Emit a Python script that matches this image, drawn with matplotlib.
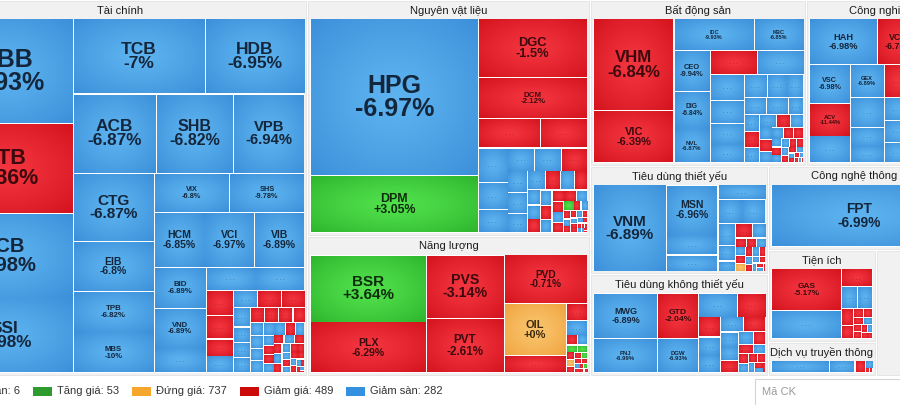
import numpy as np
import matplotlib
matplotlib.use("Agg")
import matplotlib.pyplot as plt
from matplotlib.patches import Rectangle
from matplotlib.colors import to_rgb

plt.rcParams["font.family"] = ["Liberation Sans", "DejaVu Sans"]

# status codes: S = giam san, G = giam gia, T = tang gia, D = dung gia, C = tran
sector_names = ["Tài chính", "Nguyên vật liệu", "Năng lượng", "Bất động sản", "Công nghiệp",
                "Tiêu dùng thiết yếu", "Tiêu dùng không thiết yếu", "Công nghệ thông tin",
                "Tiện ích", "Dịch vụ truyền thông", "Y tế"]
sector_vals = [140812, 66788, 39620, 35856, 24734, 19313, 18067, 15708, 9800, 3690, 10080]
sector_strips = [1, 2, 2, 2, 1, 2, 1]

# Tai chinh
tc_names = ["MBB", "STB", "VCB", "SSI", "TCB", "HDB", "ACB", "SHB", "VPB", "CTG", "EIB", "TPB", "MBS",
            "VIX", "SHS", "HCM", "VCI", "VIB", "BID", "VND"] + [""] * 10
tc_pct = [-6.93, -5.86, -6.98, -6.98, -7, -6.95, -6.87, -6.82, -6.94, -6.87, -6.8, -6.82, -10,
          -6.8, -9.78, -6.85, -6.97, -6.89, -6.89, -6.89] + [None] * 10
tc_vals = [14317, 12330, 11645, 10207, 9900, 7463, 6599, 6122, 5684, 5508, 4050, 3321, 3281,
           2935, 2935, 2778, 2750, 2750, 2132, 2080, 1274, 1139, 1127, 688, 646, 481, 454, 408, 400, 400]
tc_state = "SG" + "S" * 18 + "SSSGGGSSGG"
tc_small = [322, 256, 256, 248, 213, 213, 213, 175, 170, 170, 160, 155, 150, 140, 130, 120, 110, 100,
            100, 95, 90, 90, 85, 80, 80, 75, 70, 65, 60, 60, 55, 50, 50, 45, 40, 40, 35, 30, 25, 20, 10]
tc_small_state = "SSSS" + "GGG" + "GSS" + "SSS" + "SGS" + "SGG" + "SGS" + "GGS" + "GSG" + "GSG" + "SGG" + "SGSG" + "GSG"
tc_strips = [4, 2, 3, 4, 2, 3, 3, 2, 4, 3]

# Nguyen vat lieu
nvl_names = ["HPG", "DPM", "DGC", "DCM"] + [""] * 8
nvl_pct = [-6.97, 3.05, -1.5, -2.12] + [None] * 8
nvl_vals = [26298, 9548, 6461, 4490, 1798, 1378, 1018, 797, 693, 630, 625, 620]
nvl_state = "STGG" + "GG" + "SSS" + "SSG"
nvl_small = [430, 410, 380, 326, 280, 260, 250, 200, 190, 180, 170, 160, 150, 140, 130, 125, 120, 115,
             110, 105, 70, 65, 60, 55, 50, 45, 40, 38, 35, 32, 30, 28, 25, 22, 20, 18, 15, 12, 10, 8]
nvl_small_state = "SSSSGSGSSG" + "SGSGGSGSGT" + "GSGSGGSGSG" + "GSGGSGGSGG"
nvl_strips = [2, 1, 1, 2, 3, 3]

# Nang luong
nl_names = ["BSR", "PLX", "PVS", "PVT", "PVD", "OIL", ""]
nl_pct = [3.64, -6.29, -3.14, -2.61, -0.71, 0, None]
nl_vals = [7796, 5833, 4953, 4251, 4092, 3224, 1054]
nl_state = "TGGGGDG"
nl_small = [355, 323, 105, 100, 80, 75, 60, 55, 50, 45, 40, 35, 30, 28, 25, 22, 20, 18, 15]
nl_small_state = "GSGSTTGDGGTGGSGGTGG"
nl_strips = [2, 2, 1, 2]

# Bat dong san
bds_names = ["VHM", "VIC", "IDC", "KBC", "CEO", "DIG", "NVL"] + [""] * 6
bds_pct = [-6.84, -6.39, -9.93, -6.85, -9.94, -6.84, -6.87] + [None] * 6
bds_vals = [7406, 4186, 2560, 1584, 1458, 1332, 1242, 1128, 1116, 867, 782, 714, 629]
bds_state = "GGSSSSS" + "GS" + "SSSS"
bds_small = [527, 442, 380, 380, 380, 260, 250, 240, 230, 220, 180, 170, 160, 150, 140, 130, 115, 110,
             85, 80, 75, 70, 65, 60, 55, 50, 45, 40, 35, 30, 25, 20, 18, 15, 12]
bds_small_state = "SSSSSSSGSS" + "GSSGSSGGSG" + "SSGGSGGSSG" + "GSGSG"
bds_strips = [2, 2, 3, 2, 4]

# Cong nghiep
cn_names = ["HAH", "VCG", "", "VSC", "ACV", "", "GEX", "", "", ""]
cn_pct = [-6.98, -6.75, None, -6.98, -11.44, None, -6.89, None, None, None]
cn_vals = [3105, 1955, 1518, 1579, 1353, 1087, 1105, 1020, 646, 561]
cn_state = "SGSSGSSSSS"
cn_small = [900, 700, 680, 650, 600, 560, 500, 450, 400, 350, 300, 250, 200, 150, 100]
cn_small_state = "GSSSSSGSSGSSGSS"
cn_strips = [3, 3, 4]

# Tieu dung thiet yeu
tdty_names = ["VNM", "MSN"] + [""] * 5
tdty_pct = [-6.89, -6.96] + [None] * 5
tdty_vals = [6344, 2601, 1020, 842, 727, 575, 575]
tdty_state = "SSSSSSS"
tdty_small = [380, 260, 180, 230, 190, 100, 95, 90, 85, 80, 75, 70, 65, 60, 55, 50, 45, 40, 35, 30, 25, 20]
tdty_small_state = "SSSGSGGSSGDGSGSGSGSGSG"
tdty_strips = [1, 3, 1, 2]

# Tieu dung khong thiet yeu
tdk_names = ["MWG", "PNJ", "GTD", "DGW"]
tdk_pct = [-6.89, -6.99, -2.04, -6.93]
tdk_vals = [2967, 2258, 1886, 1435]
tdk_state = "SSGS"
tdk_small = [950, 700, 450, 420, 400, 350, 330, 280, 250, 220, 190, 160, 140, 120, 100, 90, 80, 70, 60, 50, 40, 30]
tdk_small_state = "SGGSSSGSSGSGGSGSGGSGSG"
tdk_strips = [2, 2]

# Cong nghe thong tin
cntt_names = ["FPT"]
cntt_pct = [-6.99]
cntt_vals = [11025]
cntt_state = "S"
cntt_small = [150, 100, 60, 40, 28]
cntt_small_state = "SGSSG"

# Tien ich
ti_names = ["GAS", ""]
ti_pct = [-5.17, None]
ti_vals = [2919, 1911]
ti_state = "GS"
ti_small = [567, 347, 331, 200, 150, 90, 80, 70, 65, 60, 55, 50, 45, 40, 30]
ti_small_state = "GSSGGGGGSGGGSGG"

# Dich vu truyen thong
dv_small = [715, 312, 124, 60, 20, 15]
dv_small_state = "SSGSGG"

legend_labels = ["Trần", "Tăng giá", "Đứng giá", "Giảm giá", "Giảm sàn"]
legend_counts = [6, 53, 737, 489, 282]

sectors = [
    (tc_names, tc_pct, tc_vals, tc_state, tc_small, tc_small_state, tc_strips),
    (nvl_names, nvl_pct, nvl_vals, nvl_state, nvl_small, nvl_small_state, nvl_strips),
    (nl_names, nl_pct, nl_vals, nl_state, nl_small, nl_small_state, nl_strips),
    (bds_names, bds_pct, bds_vals, bds_state, bds_small, bds_small_state, bds_strips),
    (cn_names, cn_pct, cn_vals, cn_state, cn_small, cn_small_state, cn_strips),
    (tdty_names, tdty_pct, tdty_vals, tdty_state, tdty_small, tdty_small_state, tdty_strips),
    (tdk_names, tdk_pct, tdk_vals, tdk_state, tdk_small, tdk_small_state, tdk_strips),
    (cntt_names, cntt_pct, cntt_vals, cntt_state, cntt_small, cntt_small_state, [1]),
    (ti_names, ti_pct, ti_vals, ti_state, ti_small, ti_small_state, [2]),
    ([], [], [], "", dv_small, dv_small_state, []),
    ([], [], [], "", [], "", []),
]


def worst(areas, side):
    t = sum(areas) / side
    return max(max(a / t / t, t * t / a) for a in areas)


# squarified treemap, strips = number of items per row for the first rows
def squarify(vals, x, y, w, h, strips=()):
    vals = np.asarray(vals, float)
    areas = vals * (w * h / vals.sum())
    out = []
    i, si, n = 0, 0, len(areas)
    while i < n:
        side = min(w, h)
        if si < len(strips):
            k = min(strips[si], n - i)
            si += 1
        else:
            k = 1
            best = worst(areas[i:i + 1], side)
            while i + k < n:
                nw = worst(areas[i:i + k + 1], side)
                if nw > best:
                    break
                best = nw
                k += 1
        row = areas[i:i + k]
        s = row.sum()
        if w >= h:
            t = s / h
            yy = y
            for a in row:
                out.append((x, yy, t, a / t))
                yy += a / t
            x += t
            w -= t
        else:
            t = s / w
            xx = x
            for a in row:
                out.append((xx, y, a / t, t))
                xx += a / t
            y += t
            h -= t
        i += k
    return out


tile_cols = {"S": ("#5db2ef", "#3a8fd9"), "G": ("#f3353f", "#d3121c"),
             "T": ("#52e04c", "#2db52d"), "D": ("#fac46c", "#efa33f")}
text_cols = {"S": "#14263b", "G": "#3c0a0e", "T": "#0c2c0c", "D": "#3c2a0c"}

# radial gradient for each tile colour
n = 32
gy, gx = np.mgrid[0:n, 0:n]
r = np.clip(np.hypot((gx + .5) / n - .5, (gy + .5) / n - .5) / 0.7071, 0, 1) ** 1.3
grad = {}
for k, (c0, c1) in tile_cols.items():
    grad[k] = np.array(to_rgb(c0)) * (1 - r[..., None]) + np.array(to_rgb(c1)) * r[..., None]

fig = plt.figure(figsize=(9, 4.05), dpi=100)
ax = fig.add_axes([0, 0, 1, 1])
ax.axis("off")

boxes = squarify(sector_vals, -67, 0, 1022.5, 376, sector_strips)
for (bx, by, bw, bh), title, sec in zip(boxes, sector_names, sectors):
    names, pct, vals, state, small, small_state, strips = sec
    ax.add_patch(Rectangle((bx + 1, by + 1), bw - 2, bh - 2, fc="#f1f1f1", ec="#e2e2e2", lw=0.6, zorder=0))
    ax.text(bx + bw / 2, by + 10.5, title, ha="center", va="center", fontsize=8, color="#1b1b1b")
    allv = list(vals) + list(small)
    if not allv:
        continue
    alln = list(names) + [""] * len(small)
    allp = list(pct) + [None] * len(small)
    alls = state + small_state
    ix, iy, iw, ih = bx + 3, by + 19, bw - 6, bh - 22
    ax.add_patch(Rectangle((ix, iy), iw, ih, fc="white", ec="none", zorder=1))
    for i, (x, y, w, h) in enumerate(squarify(allv, ix, iy, iw, ih, strips)):
        s = alls[i] if i < len(alls) else "S"
        x0, x1, y0, y1 = x + 0.75, x + w - 0.75, y + 0.75, y + h - 0.75
        if x1 - x0 < 0.5 or y1 - y0 < 0.5:
            continue
        ax.imshow(grad[s], extent=(x0, x1, y1, y0), interpolation="bilinear", aspect="auto", zorder=2)
        if alln[i]:
            fs = max(4, min(0.2 * h - 2.5, 0.15 * w, 18))
            ax.text(x + w / 2, y + h / 2, f"{alln[i]}\n{allp[i]:+g}%", ha="center", va="center",
                    fontsize=fs, fontweight="bold", color=text_cols[s], linespacing=0.95, zorder=3)
        elif w >= 14 and h >= 9:
            ax.text(x + w / 2, y + h / 2, ". . .", ha="center", va="center",
                    fontsize=4.5 if min(w, h) >= 14 else 3.5, color=text_cols[s], alpha=0.7, zorder=3)

ax.set_xlim(0, 900)
ax.set_ylim(405, 0)

# legend row
legend_colors = ["#b44fc8", "#2e9b2e", "#f6a52d", "#cc0a0a", "#3591df"]
labels = [f"{l}: {c}" for l, c in zip(legend_labels, legend_counts)]
renderer = fig.canvas.get_renderer()
widths = []
for lab in labels:
    t = ax.text(0, 0, lab, fontsize=8)
    widths.append(t.get_window_extent(renderer).width)
    t.remove()
x = 33 - 13 - widths[0] - 5 - 19
for lab, col, wd in zip(labels, legend_colors, widths):
    ax.add_patch(Rectangle((x, 386.5), 19, 9, fc=col, ec="none"))
    ax.text(x + 24, 391, lab, fontsize=8, va="center", color="#333333")
    x += 24 + wd + 13

# search box
ax.add_patch(Rectangle((755, 378.5), 160, 30, fc="white", ec="#d4d4d4", lw=0.8))
ax.text(762, 392, "Mã CK", fontsize=8, va="center", color="#9b9b9b")

fig.savefig("out.png", dpi=100)
